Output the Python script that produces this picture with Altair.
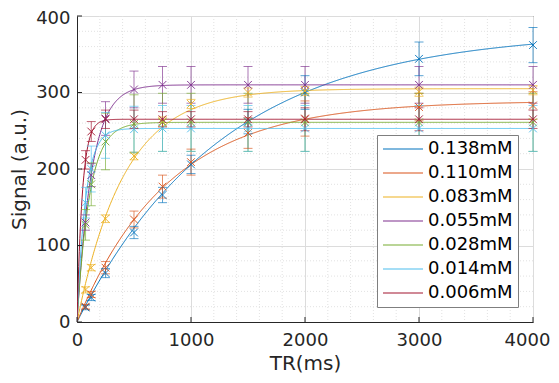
import altair as alt
import pandas as pd

# ---- data ----
series = ["0.138mM", "0.110mM", "0.083mM", "0.055mM", "0.028mM", "0.014mM", "0.006mM"]
colors = ["#0072BD", "#D95319", "#EDB120", "#7E2F8E", "#77AC30", "#4DBEEE", "#A2142F"]
tr = [75, 125, 250, 500, 750, 1000, 1500, 2000, 3000, 4000]

sig_138 = [19, 32, 64, 117, 166, 206, 262, 300, 344, 362]
sig_110 = [20, 36, 71, 134, 177, 209, 247, 266, 281, 283]
sig_083 = [42, 71, 135, 217, 262, 285, 300, 302, 301, 303]
sig_055 = [130, 192, 266, 304, 310, 310, 310, 310, 310, 310]
sig_028 = [127, 180, 236, 259, 261, 261, 261, 261, 261, 261]
sig_014 = [156, 200, 244, 252, 253, 253, 253, 253, 253, 253]
sig_006 = [212, 249, 265, 265, 265, 265, 265, 265, 265, 265]

err_138 = [3, 4, 6, 8, 10, 12, 16, 22, 22, 23]
err_110 = [3, 4, 8, 11, 15, 17, 20, 23, 18, 18]
err_083 = [4, 4, 5, 5, 6, 6, 6, 6, 6, 6]
err_055 = [10, 15, 22, 24, 24, 24, 24, 24, 24, 24]
err_028 = [20, 28, 37, 38, 38, 38, 38, 38, 38, 38]
err_014 = [20, 30, 30, 30, 30, 30, 30, 30, 30, 30]
err_006 = [12, 13, 12, 12, 10, 10, 10, 15, 15, 12]

# fitted saturation-recovery parameters
fit_m0 = [380, 289, 305, 310, 261, 253, 265]
fit_t1 = [1282, 803, 415, 128, 110, 75, 47]

x_major = [0, 1000, 2000, 3000, 4000]
y_major = [0, 100, 200, 300, 400]
x_minor = [v for v in range(200, 4000, 200) if v % 1000 != 0]
y_minor = [v for v in range(20, 400, 20) if v % 100 != 0]

# ---- tables ----
sigs = [sig_138, sig_110, sig_083, sig_055, sig_028, sig_014, sig_006]
errs = [err_138, err_110, err_083, err_055, err_028, err_014, err_006]
rows = []
for s, sv, ev in zip(series, sigs, errs):
    for t, v, e in zip(tr, sv, ev):
        rows.append({"series": s, "TR": t, "signal": v, "lo": v - e, "hi": v + e})
pts = pd.DataFrame(rows)
params = pd.DataFrame({"series": series, "M0": fit_m0, "T1": fit_t1})

W, H = 456, 306
FONT = "DejaVu Sans"
TXT = "#262626"

xs = alt.Scale(domain=[0, 4000], nice=False)
ys = alt.Scale(domain=[0, 400], nice=False)
cs = alt.Scale(domain=series, range=colors)

x_axis = alt.Axis(
    values=x_major, format="d", title="TR(ms)", gridColor="#dcdcdc",
    ticks=False, labelPadding=9, titlePadding=4,
    labelOverlap=False, labelFlush=False,
    labelOffset={"condition": {"test": "datum.value === 4000", "value": -6}, "value": 0},
)
y_axis = alt.Axis(
    values=y_major, format="d", title="Signal (a.u.)", gridColor="#dcdcdc",
    ticks=False, labelPadding=7, titlePadding=6,
    labelOverlap=False, labelFlush=False,
    labelOffset={"condition": {"test": "datum.value === 400", "value": 2}, "value": 0},
)

legend = alt.Legend(
    orient="none", legendX=300, legendY=119, title=None,
    symbolType="stroke", symbolSize=1600, symbolStrokeWidth=1.2,
    labelFontSize=18, labelFont=FONT, labelColor="#000000",
    padding=5, rowPadding=6, clipHeight=18, labelOffset=4,
    strokeColor="#7f7f7f", fillColor="#ffffff",
)

gx = alt.Chart(pd.DataFrame({"v": x_minor})).mark_rule(
    color="#e2e2e2", strokeWidth=1, strokeDash=[1, 2]
).encode(x=alt.X("v:Q", scale=xs, axis=x_axis))
gy = alt.Chart(pd.DataFrame({"v": y_minor})).mark_rule(
    color="#e2e2e2", strokeWidth=1, strokeDash=[1, 2]
).encode(y=alt.Y("v:Q", scale=ys, axis=y_axis))

curves = alt.Chart(params).transform_calculate(
    TRs="sequence(0, 4001, 5)"
).transform_flatten(["TRs"]).transform_calculate(
    fit="datum.M0 * (1 - exp(-datum.TRs / datum.T1))"
).mark_line(strokeWidth=1, clip=True).encode(
    x=alt.X("TRs:Q", scale=xs),
    y=alt.Y("fit:Q", scale=ys),
    stroke=alt.Stroke("series:N", scale=cs, legend=legend, sort=series),
    detail="series:N",
)

base = alt.Chart(pts)
bars = base.mark_rule(strokeWidth=1, opacity=0.65).encode(
    x=alt.X("TR:Q", scale=xs), y=alt.Y("lo:Q", scale=ys), y2="hi:Q",
    color=alt.Color("series:N", scale=cs, legend=None),
)
cap_hi = base.mark_tick(orient="horizontal", size=9, thickness=1, opacity=0.65).encode(
    x=alt.X("TR:Q", scale=xs), y=alt.Y("hi:Q", scale=ys),
    color=alt.Color("series:N", scale=cs, legend=None),
)
cap_lo = base.mark_tick(orient="horizontal", size=9, thickness=1, opacity=0.65).encode(
    x=alt.X("TR:Q", scale=xs), y=alt.Y("lo:Q", scale=ys),
    color=alt.Color("series:N", scale=cs, legend=None),
)
marks = base.mark_point(
    shape="M-1,-1L1,1M-1,1L1,-1", size=60, filled=False, strokeWidth=1, opacity=0.9
).encode(
    x=alt.X("TR:Q", scale=xs), y=alt.Y("signal:Q", scale=ys),
    color=alt.Color("series:N", scale=cs, legend=None),
)

xt = alt.Chart(pd.DataFrame({"v": x_major})).mark_rule(color=TXT, strokeWidth=1).encode(
    x=alt.X("v:Q", scale=xs), y=alt.value(H), y2=alt.value(H - 5)
)
yt = alt.Chart(pd.DataFrame({"v": y_major})).mark_rule(color=TXT, strokeWidth=1).encode(
    y=alt.Y("v:Q", scale=ys), x=alt.value(0), x2=alt.value(5)
)

chart = alt.layer(gx, gy, curves, bars, cap_hi, cap_lo, marks, xt, yt).properties(
    width=W, height=H,
    autosize=alt.AutoSizeParams(type="none"),
    padding={"left": 69, "top": 8, "right": 18, "bottom": 53},
).configure_view(
    stroke=TXT, strokeWidth=1
).configure_axis(
    domainColor=TXT, labelColor=TXT, titleColor=TXT,
    labelFont=FONT, titleFont=FONT, labelFontSize=18, titleFontSize=20,
    titleFontWeight="normal", gridWidth=1,
)

chart.save("out.html", embed_options={"renderer": "svg", "actions": False})
